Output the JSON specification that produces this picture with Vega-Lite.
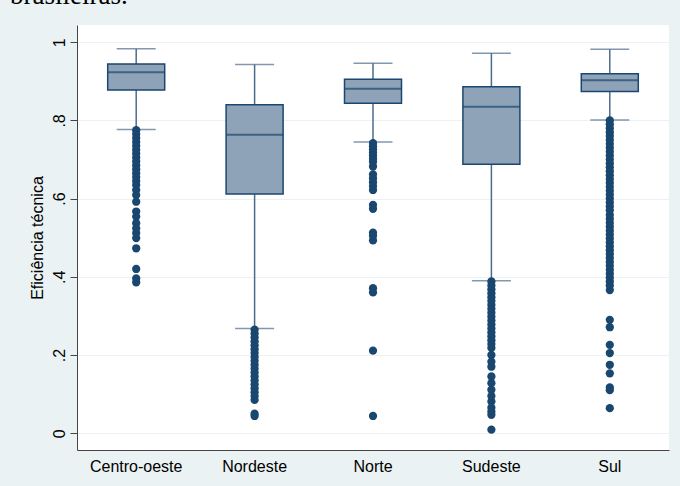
{
  "$schema": "https://vega.github.io/schema/vega-lite/v6.json",
  "width": 592,
  "height": 425,
  "autosize": {"type": "none"},
  "padding": {"left": 77, "top": 25, "right": 11, "bottom": 36},
  "background": "#eaf2f3",
  "title": {"text": "brasileiras.", "anchor": "start", "frame": "group", "dx": -67, "dy": 6, "offset": 0, "baseline": "alphabetic", "font": "Liberation Serif", "fontSize": 27, "fontWeight": "normal", "color": "#000000"},
  "config": {
    "view": {"stroke": null, "fill": "#ffffff"},
    "axis": {"labelFont": "Liberation Sans", "titleFont": "Liberation Sans", "labelColor": "#000000", "titleColor": "#000000", "domainColor": "#444444", "tickColor": "#444444", "titleFontWeight": "normal"}
  },
  "datasets": {
    "boxes": [
      {"r": "Centro-oeste", "lo": 0.777, "q1": 0.878, "med": 0.923, "q3": 0.944, "hi": 0.983},
      {"r": "Nordeste", "lo": 0.268, "q1": 0.612, "med": 0.763, "q3": 0.840, "hi": 0.943},
      {"r": "Norte", "lo": 0.745, "q1": 0.844, "med": 0.881, "q3": 0.905, "hi": 0.946},
      {"r": "Sudeste", "lo": 0.390, "q1": 0.688, "med": 0.835, "q3": 0.886, "hi": 0.972},
      {"r": "Sul", "lo": 0.801, "q1": 0.874, "med": 0.903, "q3": 0.919, "hi": 0.982}
    ],
    "out": [
      {"r": "Centro-oeste", "v": 0.775}, {"r": "Centro-oeste", "v": 0.765}, {"r": "Centro-oeste", "v": 0.755}, {"r": "Centro-oeste", "v": 0.745}, {"r": "Centro-oeste", "v": 0.735}, {"r": "Centro-oeste", "v": 0.725}, {"r": "Centro-oeste", "v": 0.715}, {"r": "Centro-oeste", "v": 0.705}, {"r": "Centro-oeste", "v": 0.695}, {"r": "Centro-oeste", "v": 0.685}, {"r": "Centro-oeste", "v": 0.675}, {"r": "Centro-oeste", "v": 0.665}, {"r": "Centro-oeste", "v": 0.655}, {"r": "Centro-oeste", "v": 0.645}, {"r": "Centro-oeste", "v": 0.635},
      {"r": "Centro-oeste", "v": 0.622}, {"r": "Centro-oeste", "v": 0.609}, {"r": "Centro-oeste", "v": 0.592}, {"r": "Centro-oeste", "v": 0.567}, {"r": "Centro-oeste", "v": 0.554}, {"r": "Centro-oeste", "v": 0.537}, {"r": "Centro-oeste", "v": 0.524}, {"r": "Centro-oeste", "v": 0.512}, {"r": "Centro-oeste", "v": 0.499}, {"r": "Centro-oeste", "v": 0.473}, {"r": "Centro-oeste", "v": 0.420}, {"r": "Centro-oeste", "v": 0.396}, {"r": "Centro-oeste", "v": 0.386},
      {"r": "Nordeste", "v": 0.265}, {"r": "Nordeste", "v": 0.255}, {"r": "Nordeste", "v": 0.245}, {"r": "Nordeste", "v": 0.235}, {"r": "Nordeste", "v": 0.225}, {"r": "Nordeste", "v": 0.215}, {"r": "Nordeste", "v": 0.205}, {"r": "Nordeste", "v": 0.195}, {"r": "Nordeste", "v": 0.185}, {"r": "Nordeste", "v": 0.175}, {"r": "Nordeste", "v": 0.165}, {"r": "Nordeste", "v": 0.155}, {"r": "Nordeste", "v": 0.145}, {"r": "Nordeste", "v": 0.135}, {"r": "Nordeste", "v": 0.125}, {"r": "Nordeste", "v": 0.115}, {"r": "Nordeste", "v": 0.105}, {"r": "Nordeste", "v": 0.095}, {"r": "Nordeste", "v": 0.085}, {"r": "Nordeste", "v": 0.050}, {"r": "Nordeste", "v": 0.044},
      {"r": "Norte", "v": 0.742}, {"r": "Norte", "v": 0.734}, {"r": "Norte", "v": 0.726}, {"r": "Norte", "v": 0.718}, {"r": "Norte", "v": 0.710}, {"r": "Norte", "v": 0.702}, {"r": "Norte", "v": 0.694}, {"r": "Norte", "v": 0.682}, {"r": "Norte", "v": 0.662}, {"r": "Norte", "v": 0.652}, {"r": "Norte", "v": 0.642}, {"r": "Norte", "v": 0.632}, {"r": "Norte", "v": 0.622}, {"r": "Norte", "v": 0.584}, {"r": "Norte", "v": 0.574}, {"r": "Norte", "v": 0.513}, {"r": "Norte", "v": 0.505}, {"r": "Norte", "v": 0.493}, {"r": "Norte", "v": 0.371}, {"r": "Norte", "v": 0.360}, {"r": "Norte", "v": 0.211}, {"r": "Norte", "v": 0.044},
      {"r": "Sudeste", "v": 0.388}, {"r": "Sudeste", "v": 0.378}, {"r": "Sudeste", "v": 0.368}, {"r": "Sudeste", "v": 0.358}, {"r": "Sudeste", "v": 0.348}, {"r": "Sudeste", "v": 0.338}, {"r": "Sudeste", "v": 0.328}, {"r": "Sudeste", "v": 0.318}, {"r": "Sudeste", "v": 0.308}, {"r": "Sudeste", "v": 0.298}, {"r": "Sudeste", "v": 0.288}, {"r": "Sudeste", "v": 0.278}, {"r": "Sudeste", "v": 0.268}, {"r": "Sudeste", "v": 0.258}, {"r": "Sudeste", "v": 0.248}, {"r": "Sudeste", "v": 0.238}, {"r": "Sudeste", "v": 0.228}, {"r": "Sudeste", "v": 0.218},
      {"r": "Sudeste", "v": 0.200}, {"r": "Sudeste", "v": 0.183}, {"r": "Sudeste", "v": 0.170}, {"r": "Sudeste", "v": 0.145}, {"r": "Sudeste", "v": 0.128}, {"r": "Sudeste", "v": 0.111}, {"r": "Sudeste", "v": 0.095}, {"r": "Sudeste", "v": 0.081}, {"r": "Sudeste", "v": 0.065}, {"r": "Sudeste", "v": 0.055}, {"r": "Sudeste", "v": 0.047}, {"r": "Sudeste", "v": 0.009},
      {"r": "Sul", "v": 0.800}, {"r": "Sul", "v": 0.790}, {"r": "Sul", "v": 0.780}, {"r": "Sul", "v": 0.770}, {"r": "Sul", "v": 0.760}, {"r": "Sul", "v": 0.750}, {"r": "Sul", "v": 0.740}, {"r": "Sul", "v": 0.730}, {"r": "Sul", "v": 0.720}, {"r": "Sul", "v": 0.710}, {"r": "Sul", "v": 0.700}, {"r": "Sul", "v": 0.690}, {"r": "Sul", "v": 0.680}, {"r": "Sul", "v": 0.670}, {"r": "Sul", "v": 0.660}, {"r": "Sul", "v": 0.650}, {"r": "Sul", "v": 0.640}, {"r": "Sul", "v": 0.630}, {"r": "Sul", "v": 0.620}, {"r": "Sul", "v": 0.610}, {"r": "Sul", "v": 0.600}, {"r": "Sul", "v": 0.590}, {"r": "Sul", "v": 0.580}, {"r": "Sul", "v": 0.570}, {"r": "Sul", "v": 0.558}, {"r": "Sul", "v": 0.548}, {"r": "Sul", "v": 0.538}, {"r": "Sul", "v": 0.528}, {"r": "Sul", "v": 0.518}, {"r": "Sul", "v": 0.508}, {"r": "Sul", "v": 0.498}, {"r": "Sul", "v": 0.488}, {"r": "Sul", "v": 0.478}, {"r": "Sul", "v": 0.468}, {"r": "Sul", "v": 0.458}, {"r": "Sul", "v": 0.448}, {"r": "Sul", "v": 0.438}, {"r": "Sul", "v": 0.428}, {"r": "Sul", "v": 0.418}, {"r": "Sul", "v": 0.408}, {"r": "Sul", "v": 0.398}, {"r": "Sul", "v": 0.388}, {"r": "Sul", "v": 0.378}, {"r": "Sul", "v": 0.366},
      {"r": "Sul", "v": 0.290}, {"r": "Sul", "v": 0.271}, {"r": "Sul", "v": 0.226}, {"r": "Sul", "v": 0.205}, {"r": "Sul", "v": 0.175}, {"r": "Sul", "v": 0.153}, {"r": "Sul", "v": 0.117}, {"r": "Sul", "v": 0.110}, {"r": "Sul", "v": 0.064}
    ]
  },
  "encoding": {
    "x": {"field": "r", "type": "nominal", "sort": ["Centro-oeste", "Nordeste", "Norte", "Sudeste", "Sul"],
      "scale": {"paddingInner": 0, "paddingOuter": 0},
      "axis": {"title": null, "labelAngle": 0, "ticks": false, "labelFontSize": 16, "labelPadding": 8, "domainWidth": 1}}
  },
  "layer": [
    {
      "data": {"name": "boxes"},
      "mark": {"type": "rule", "color": "#4d6c8b", "strokeWidth": 1.5},
      "encoding": {
        "y": {"field": "lo", "type": "quantitative",
          "scale": {"domain": [-0.043, 1.044], "nice": false, "zero": false},
          "axis": {"title": "Eficiência técnica", "titleFontSize": 16, "titlePadding": 6, "values": [0, 0.2, 0.4, 0.6, 0.8, 1],
            "labelExpr": "datum.value == 0 ? '0' : (datum.value == 1 ? '1' : replace(format(datum.value, '.1f'), '0.', '.'))",
            "labelAngle": -90, "labelAlign": "center", "labelBaseline": "bottom", "labelFontSize": 16, "labelPadding": 3,
            "tickSize": 7, "grid": true, "gridColor": "#eaf2f3", "gridWidth": 1}},
        "y2": {"field": "hi"}
      }
    },
    {
      "data": {"name": "boxes"},
      "mark": {"type": "tick", "color": "#4d6c8b", "size": 39, "thickness": 1.5},
      "encoding": {"y": {"field": "lo", "type": "quantitative"}}
    },
    {
      "data": {"name": "boxes"},
      "mark": {"type": "tick", "color": "#4d6c8b", "size": 39, "thickness": 1.5},
      "encoding": {"y": {"field": "hi", "type": "quantitative"}}
    },
    {
      "data": {"name": "boxes"},
      "mark": {"type": "bar", "fill": "#8ea3b8", "stroke": "#1a476f", "strokeWidth": 1.5, "size": 57},
      "encoding": {"y": {"field": "q1", "type": "quantitative"}, "y2": {"field": "q3"}}
    },
    {
      "data": {"name": "boxes"},
      "mark": {"type": "tick", "color": "#1a476f", "size": 57, "thickness": 2},
      "encoding": {"y": {"field": "med", "type": "quantitative"}}
    },
    {
      "data": {"name": "out"},
      "mark": {"type": "point", "shape": "circle", "filled": true, "color": "#1a476f", "opacity": 1, "size": 68},
      "encoding": {"y": {"field": "v", "type": "quantitative"}}
    }
  ]
}
